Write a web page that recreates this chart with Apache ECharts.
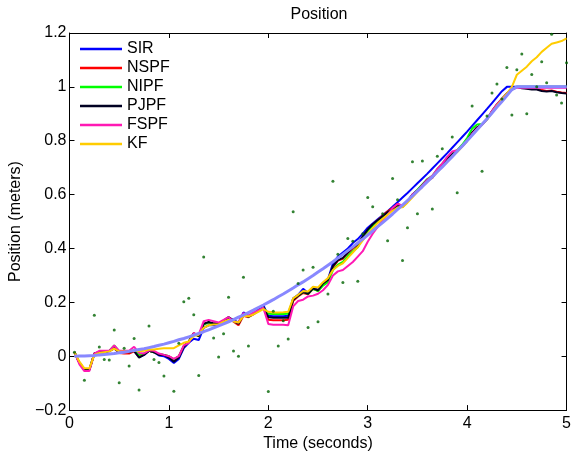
<!DOCTYPE html>
<html><head><meta charset="utf-8">
<script src="https://cdn.jsdelivr.net/npm/echarts@6/dist/echarts.min.js"></script>
<style>html,body{margin:0;padding:0;background:#fff}#c{width:574px;height:457px}</style>
</head><body><div id="c"></div>
<script>
// time samples (seconds)
const time = [
 0.05,0.10,0.15,0.20,0.25,0.30,0.35,0.40,0.45,0.50,
 0.55,0.60,0.65,0.70,0.75,0.80,0.85,0.90,0.95,1.00,
 1.05,1.10,1.15,1.20,1.25,1.30,1.35,1.40,1.45,1.50,
 1.55,1.60,1.65,1.70,1.75,1.80,1.85,1.90,1.95,2.00,
 2.05,2.10,2.15,2.20,2.25,2.30,2.35,2.40,2.45,2.50,
 2.55,2.60,2.65,2.70,2.75,2.80,2.85,2.90,2.95,3.00,
 3.05,3.10,3.15,3.20,3.25,3.30,3.35,3.40,3.45,3.50,
 3.55,3.60,3.65,3.70,3.75,3.80,3.85,3.90,3.95,4.00,
 4.05,4.10,4.15,4.20,4.25,4.30,4.35,4.40,4.45,4.50,
 4.55,4.60,4.65,4.70,4.75,4.80,4.85,4.90,4.95,5.00];

const sir = [
 0.015,-0.025,-0.05,-0.05,0.01,0.015,0.015,0.02,0.028,0.015,
 0.018,0.015,0.02,-0.003,0.005,0.02,0.015,0.003,0.0,-0.01,
 -0.025,-0.01,0.03,0.05,0.065,0.06,0.105,0.115,0.115,0.115,
 0.128,0.14,0.135,0.125,0.163,0.15,0.158,0.172,0.19,0.15,
 0.148,0.148,0.148,0.15,0.215,0.228,0.25,0.235,0.256,0.246,
 0.27,0.285,0.345,0.37,0.385,0.40,0.42,0.435,0.455,0.477,
 0.493,0.508,0.523,0.538,0.555,0.572,0.589,0.606,0.624,0.642,
 0.66,0.678,0.697,0.716,0.735,0.754,0.774,0.794,0.814,0.834,
 0.855,0.876,0.897,0.918,0.94,0.962,0.984,1.0,1.0,1.0,
 1.0,1.0,1.0,1.0,1.0,1.0,1.0,1.0,1.0,1.0];

const nspf = [
 0.015,-0.025,-0.05,-0.05,0.01,0.015,0.015,0.018,0.03,0.012,
 0.01,0.01,0.018,0.0,0.008,0.02,0.015,0.008,0.005,0.0,
 -0.012,0.0,0.038,0.055,0.085,0.075,0.12,0.125,0.12,0.118,
 0.128,0.14,0.128,0.115,0.15,0.145,0.155,0.168,0.18,0.135,
 0.134,0.134,0.134,0.135,0.205,0.222,0.235,0.23,0.25,0.243,
 0.265,0.28,0.33,0.355,0.362,0.383,0.4,0.41,0.44,0.468,
 0.488,0.505,0.522,0.538,0.55,0.565,0.558,0.575,0.598,0.615,
 0.633,0.652,0.662,0.688,0.71,0.733,0.752,0.76,0.78,0.8,
 0.828,0.848,0.86,0.88,0.908,0.933,0.955,0.975,0.99,1.0,
 0.997,0.995,0.992,0.992,0.988,0.985,0.987,0.982,0.979,0.977];

const nipf = [
 0.015,-0.025,-0.05,-0.05,0.008,0.015,0.017,0.02,0.04,0.018,
 0.02,0.017,0.022,0.005,0.01,0.02,0.015,0.008,0.005,0.0,
 -0.012,0.0,0.037,0.055,0.082,0.075,0.118,0.125,0.12,0.12,
 0.13,0.142,0.13,0.122,0.155,0.147,0.157,0.168,0.18,0.158,
 0.157,0.157,0.157,0.158,0.212,0.225,0.238,0.232,0.25,0.242,
 0.262,0.275,0.32,0.34,0.35,0.372,0.39,0.405,0.438,0.465,
 0.485,0.502,0.518,0.533,0.545,0.558,0.555,0.575,0.6,0.618,
 0.638,0.658,0.67,0.695,0.715,0.738,0.752,0.765,0.785,0.81,
 0.845,0.86,0.862,0.88,0.905,0.93,0.955,0.975,0.99,1.0,
 1.0,1.0,1.0,1.0,1.0,1.0,1.0,1.0,1.0,1.0];

const pjpf = [
 0.015,-0.025,-0.05,-0.05,0.01,0.015,0.015,0.02,0.03,0.015,
 0.018,0.015,0.02,-0.005,0.005,0.02,0.015,0.005,0.005,-0.005,
 -0.02,-0.005,0.035,0.055,0.085,0.075,0.12,0.127,0.122,0.122,
 0.132,0.145,0.133,0.12,0.157,0.147,0.157,0.17,0.183,0.145,
 0.143,0.143,0.143,0.143,0.21,0.225,0.238,0.232,0.252,0.245,
 0.27,0.283,0.335,0.357,0.365,0.385,0.405,0.415,0.445,0.47,
 0.49,0.505,0.52,0.535,0.545,0.56,0.555,0.575,0.6,0.615,
 0.635,0.655,0.665,0.69,0.71,0.735,0.75,0.76,0.78,0.8,
 0.83,0.85,0.86,0.88,0.91,0.935,0.955,0.975,0.99,1.0,
 0.995,0.993,0.99,0.99,0.985,0.983,0.985,0.98,0.977,0.975];

const fspf = [
 0.015,-0.03,-0.055,-0.055,0.01,0.02,0.02,0.02,0.04,0.02,
 0.02,0.02,0.035,0.012,0.01,0.022,0.02,0.01,0.005,0.0,
 -0.01,0.0,0.04,0.05,0.085,0.08,0.13,0.135,0.13,0.125,
 0.135,0.145,0.13,0.125,0.16,0.15,0.163,0.17,0.18,0.12,
 0.117,0.117,0.117,0.115,0.185,0.205,0.21,0.222,0.225,0.232,
 0.245,0.265,0.3,0.315,0.32,0.335,0.35,0.37,0.39,0.425,
 0.455,0.48,0.505,0.525,0.55,0.565,0.56,0.575,0.6,0.615,
 0.635,0.655,0.67,0.695,0.715,0.74,0.76,0.765,0.78,0.8,
 0.825,0.845,0.86,0.88,0.91,0.935,0.955,0.975,0.99,0.997,
 0.997,0.997,0.997,0.997,0.997,0.997,0.997,0.997,0.997,0.997];

const kf = [
 0.015,-0.02,-0.045,-0.045,0.005,0.012,0.015,0.018,0.028,0.018,
 0.018,0.018,0.022,0.018,0.02,0.025,0.025,0.028,0.03,0.03,
 0.03,0.04,0.05,0.055,0.075,0.08,0.105,0.115,0.118,0.118,
 0.128,0.135,0.13,0.125,0.15,0.148,0.155,0.165,0.175,0.165,
 0.162,0.162,0.163,0.165,0.215,0.228,0.242,0.24,0.258,0.255,
 0.275,0.29,0.32,0.335,0.345,0.365,0.385,0.405,0.43,0.455,
 0.475,0.495,0.51,0.525,0.54,0.552,0.553,0.57,0.59,0.61,
 0.63,0.648,0.665,0.685,0.703,0.722,0.742,0.758,0.778,0.8,
 0.822,0.842,0.86,0.88,0.905,0.93,0.953,0.975,1.0,1.045,
 1.06,1.075,1.095,1.11,1.13,1.145,1.16,1.165,1.17,1.18];

// true position (light purple line)
const truth = [
 0.000,0.001,0.001,0.002,0.003,0.005,0.006,0.008,0.010,0.013,
 0.015,0.018,0.021,0.025,0.028,0.032,0.036,0.041,0.045,0.050,
 0.055,0.061,0.066,0.072,0.078,0.085,0.091,0.098,0.105,0.113,
 0.120,0.128,0.136,0.145,0.153,0.162,0.171,0.181,0.190,0.200,
 0.210,0.221,0.231,0.242,0.253,0.265,0.276,0.288,0.300,0.313,
 0.325,0.338,0.351,0.365,0.378,0.392,0.406,0.421,0.435,0.450,
 0.465,0.481,0.496,0.512,0.528,0.545,0.561,0.578,0.595,0.613,
 0.630,0.648,0.666,0.685,0.703,0.722,0.741,0.761,0.780,0.800,
 0.820,0.841,0.861,0.882,0.903,0.925,0.946,0.968,0.990,1.000,
 1.000,1.000,1.000,1.000,1.000,1.000,1.000,1.000,1.000,1.000];

// noisy measurements (green dots)
const measT = [
 0.05,0.15,0.25,0.30,0.35,0.40,0.45,0.50,0.55,0.60,0.65,0.70,0.80,0.85,0.90,0.95,
 1.05,1.10,1.15,1.20,1.25,1.30,1.35,1.45,1.50,1.55,1.60,1.65,1.70,1.75,1.80,
 2.00,2.05,2.10,2.15,2.20,2.25,2.30,2.35,2.40,2.45,2.50,2.60,2.65,2.70,2.75,2.80,2.85,2.90,2.95,
 3.00,3.05,3.15,3.20,3.25,3.30,3.35,3.40,3.45,3.50,3.55,3.65,3.70,3.75,3.85,3.90,
 4.05,4.15,4.20,4.25,4.30,4.35,4.40,4.45,4.50,4.55,4.60,4.65,4.70,4.75,4.80,4.85,4.90,4.95,5.00];
const measV = [
 0.015,-0.089,0.152,0.034,-0.012,-0.014,0.097,-0.098,0.030,-0.036,0.066,-0.125,0.112,-0.012,-0.023,-0.073,
 -0.130,0.048,0.202,0.215,0.154,-0.072,0.368,0.068,-0.003,0.083,0.219,0.019,0.0,0.293,0.038,
 -0.131,0.167,0.038,0.132,0.064,0.536,0.270,0.320,0.107,0.330,0.128,0.231,0.650,0.379,0.274,0.437,0.427,0.278,0.455,
 0.589,0.555,0.529,0.429,0.660,0.581,0.355,0.477,0.722,0.529,0.725,0.547,0.742,0.770,0.814,0.607,
 0.929,0.687,0.892,0.977,1.011,0.955,1.072,0.896,1.064,1.122,0.900,1.046,1.0,1.093,1.015,1.195,0.970,0.940,1.090];

const lineNames = ['SIR','NSPF','NIPF','PJPF','FSPF','KF'];
const lineColors = ['#0000ff','#ff0000','#00ff00','#000022','#ff19b4','#ffcc00'];
const lineValues = [sir, nspf, nipf, pjpf, fspf, kf];
const xTicks = [0,1,2,3,4,5];
const yTicks = [-0.2,0,0.2,0.4,0.6,0.8,1,1.2];

const FONT = '"Liberation Sans", Arial, Helvetica, sans-serif';
function pairs(xs, ys){ return xs.map((x,i)=>[x, ys[i]]); }
const txt = {fontFamily: FONT, fontSize: 16, color: '#000'};
const lineAx = {show:true, onZero:false, lineStyle:{color:'#000', width:1}};
const tickAx = {show:true, inside:true, length:5, lineStyle:{color:'#000', width:1}};

const xBase = {type:'value', min:xTicks[0], max:xTicks[xTicks.length-1], interval:1,
  axisLine:lineAx, axisTick:tickAx, splitLine:{show:false}};
const yBase = {type:'value', min:yTicks[0], max:yTicks[yTicks.length-1], interval:0.2,
  axisLine:lineAx, axisTick:tickAx, splitLine:{show:false}};

const series = lineNames.map((n,i)=>({
  name:n, type:'line', data:pairs(time, lineValues[i]), symbol:'none',
  lineStyle:{color:lineColors[i], width:2}, itemStyle:{color:lineColors[i]}, z:2
}));
series.push({name:'truth', type:'line', data:pairs(time, truth), symbol:'none',
  lineStyle:{color:'#8888ff', width:3}, itemStyle:{color:'#8888ff'}, z:3});
series.push({name:'meas', type:'scatter', data:pairs(measT, measV), symbol:'circle', symbolSize:3,
  itemStyle:{color:'#006400'}, z:4});

const chart = echarts.init(document.getElementById('c'), null, {renderer:'canvas'});
chart.setOption({
  animation:false,
  backgroundColor:'#fff',
  title:{text:'Position', left:319, top:7, textAlign:'center', padding:0,
    textStyle:Object.assign({fontWeight:'normal'}, txt)},
  legend:{orient:'vertical', left:80, top:41, padding:0, itemGap:3, itemWidth:42, itemHeight:2.5,
    icon:'rect', data:lineNames, textStyle:txt, selectedMode:false},
  grid:{left:66.3, right:3, top:33, bottom:43.3},
  xAxis:[
    Object.assign({}, xBase, {position:'bottom', name:'Time (seconds)', nameLocation:'middle', nameGap:19,
      nameTextStyle:txt, axisLabel:Object.assign({margin:5, formatter:v=>String(v)}, txt)}),
    Object.assign({}, xBase, {position:'top', axisLabel:{show:false}})
  ],
  yAxis:[
    Object.assign({}, yBase, {position:'left', name:'Position (meters)', nameLocation:'middle', nameGap:40,
      nameTextStyle:txt, axisLabel:Object.assign({margin:3, formatter:v=>{
        const r = Math.round(v*10)/10; return r < 0 ? '\u2212' + String(-r) : String(r);}}, txt)}),
    Object.assign({}, yBase, {position:'right', axisLabel:{show:false}})
  ],
  series: series
});
</script>
</body></html>
